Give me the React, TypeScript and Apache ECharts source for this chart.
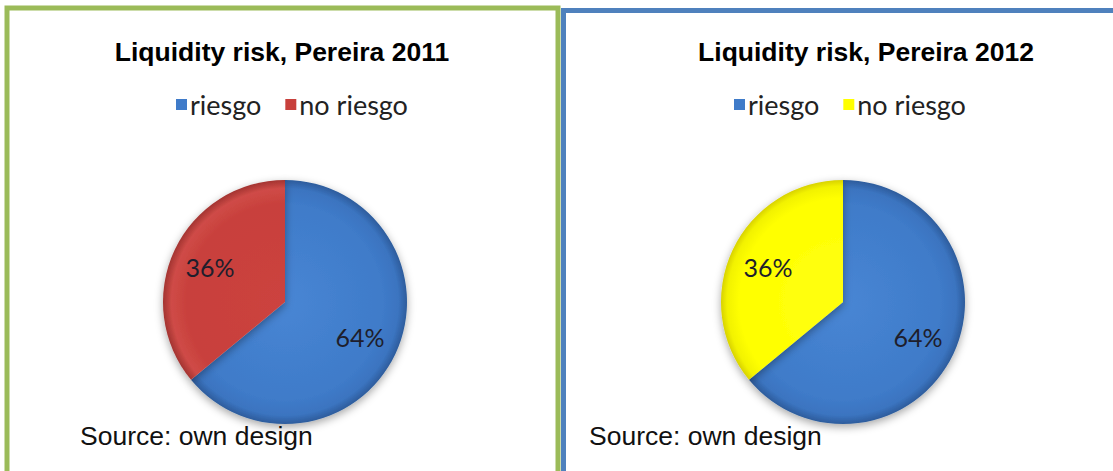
import React, { useEffect, useRef } from "react";
import * as echarts from "echarts";

const categories = ["riesgo", "no riesgo"];
const values2011 = [64, 36];
const values2012 = [64, 36];
const titles = ["Liquidity risk, Pereira 2011", "Liquidity risk, Pereira 2012"];
const sourceText = "Source: own design";

const BLUE = "#3F7BC9";
const RED = "#C8403C";
const YELLOW = "#FFFF00";

function radial(cx: number, cy: number, r: number, stops: [number, string][]) {
  return {
    type: "radial",
    x: cx,
    y: cy,
    r,
    global: true,
    colorStops: stops.map(([offset, color]) => ({ offset, color })),
  };
}

export default function App() {
  const ref = useRef<HTMLDivElement>(null);
  useEffect(() => {
    document.body.style.margin = "0";
    const chart = echarts.init(ref.current!, null, { renderer: "svg" });
    const R = 122;
    const centers: [number, number][] = [
      [285, 302],
      [843, 302],
    ];
    const otherColors = [RED, YELLOW];
    const blueGrad = (c: [number, number]) =>
      radial(c[0], c[1], R, [
        [0, "#4886D4"],
        [0.8, "#3F7BC9"],
        [0.93, "#3B74C0"],
        [1, "#2D5C9C"],
      ]);
    const otherGrad = (i: number, c: [number, number]) =>
      i === 0
        ? radial(c[0], c[1], R, [
            [0, "#CC433F"],
            [0.8, "#C8403C"],
            [0.93, "#CF4B47"],
            [1, "#A33431"],
          ])
        : radial(c[0], c[1], R, [
            [0, "#FFFF10"],
            [0.85, "#FFFF00"],
            [0.95, "#F2F200"],
            [1, "#D8D200"],
          ]);
    const datasets = [values2011, values2012];
    const series: any[] = [];
    datasets.forEach((vals, i) => {
      const c = centers[i];
      series.push({
        type: "pie",
        name: titles[i],
        center: c,
        radius: [0, R],
        startAngle: 90,
        clockwise: true,
        silent: true,
        label: { show: false },
        labelLine: { show: false },
        itemStyle: {
          shadowBlur: 8,
          shadowOffsetY: 3,
          shadowColor: "rgba(0,0,0,0.35)",
        },
        data: vals.map((v, k) => ({
          name: categories[k],
          value: v,
          itemStyle: { color: k === 0 ? blueGrad(c) : otherGrad(i, c) },
        })),
      });
      series.push({
        type: "pie",
        name: titles[i] + " labels",
        center: c,
        radius: [38, R],
        startAngle: 90,
        clockwise: true,
        silent: true,
        itemStyle: { color: "rgba(0,0,0,0)" },
        label: {
          show: true,
          position: "inner",
          formatter: (p: any) => p.value + "%",
          fontFamily: "Lato",
          fontSize: 25,
          color: "#1E1E2C",
        },
        labelLine: { show: false },
        data: vals.map((v, k) => ({ name: categories[k], value: v })),
      });
    });

    const titleStyle = {
      fontFamily: "Liberation Sans",
      fontWeight: "bold",
      fontSize: 26.5,
      color: "#000",
    };
    const legendBase = {
      top: 86,
      icon: "rect",
      itemWidth: 11,
      itemHeight: 11,
      itemGap: 24,
      selectedMode: false,
      textStyle: { fontFamily: "Lato", fontSize: 27, color: "#222", padding: [0, 0, 0, -2] },
    };

    chart.setOption({
      animation: false,
      backgroundColor: "#FFFFFF",
      title: [
        { text: titles[0], left: 277, top: 33, textAlign: "center", textStyle: titleStyle },
        { text: titles[1], left: 861, top: 33, textAlign: "center", textStyle: titleStyle },
      ],
      legend: [
        {
          ...legendBase,
          left: 171,
          data: categories.map((n, k) => ({
            name: n,
            itemStyle: { color: k === 0 ? BLUE : otherColors[0] },
          })),
        },
        {
          ...legendBase,
          left: 729,
          data: categories.map((n, k) => ({
            name: n,
            itemStyle: { color: k === 0 ? BLUE : otherColors[1] },
          })),
        },
      ],
      graphic: [
        {
          type: "rect",
          shape: { x: 7, y: 8, width: 551, height: 475 },
          style: { fill: "none", stroke: "#9BBB59", lineWidth: 5 },
          silent: true,
        },
        {
          type: "rect",
          shape: { x: 563.5, y: 10.5, width: 570, height: 475 },
          style: { fill: "none", stroke: "#4F81BD", lineWidth: 5 },
          silent: true,
        },
        {
          type: "text",
          x: 80,
          y: 436,
          style: {
            text: sourceText,
            font: "26.5px 'Liberation Sans'",
            fill: "#111",
            textVerticalAlign: "middle",
          },
        },
        {
          type: "text",
          x: 589,
          y: 436,
          style: {
            text: sourceText,
            font: "26.5px 'Liberation Sans'",
            fill: "#111",
            textVerticalAlign: "middle",
          },
        },
      ],
      series,
    });
    return () => chart.dispose();
  }, []);
  return (
    <div
      ref={ref}
      style={{ position: "absolute", left: 0, top: 0, width: 1113, height: 471 }}
    />
  );
}
